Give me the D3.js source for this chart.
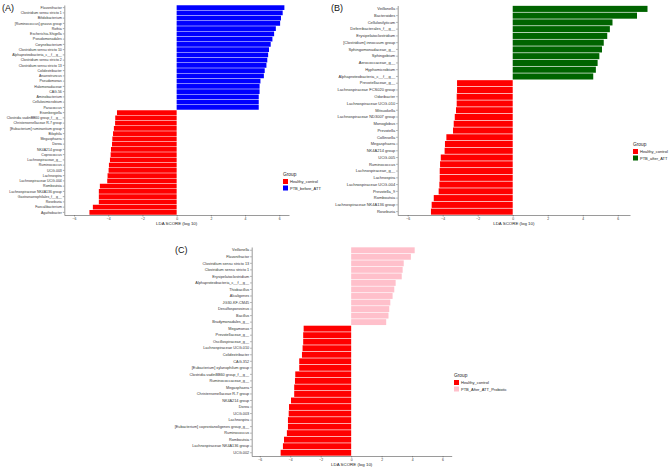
<!DOCTYPE html>
<html>
<head>
<meta charset="utf-8">
<script src="https://cdn.jsdelivr.net/npm/d3@7"></script>
<style>
  body { margin: 0; background: #fff; }
  svg { font-family: "Liberation Sans", Arial, sans-serif; }
</style>
</head>
<body>
<div id="chart"></div>
<script>
// Panel A: PTB_before_ATT vs Healthy_control
var aTaxa = ["Flavonifractor", "Clostridium sensu stricto 1", "Bifidobacterium", "[Ruminococcus] gnavus group",
    "Rothia", "Escherichia-Shigella", "Pseudomonadales", "Corynebacterium", "Clostridium sensu stricto 10",
    "Alphaproteobacteria_c__f__g__", "Clostridium sensu stricto 2", "Clostridium sensu stricto 13",
    "Colidextribacter", "Anaerotruncus", "Pseudomonas", "Halomonadaceae", "CAG-56", "Aminobacterium",
    "Cellulosimicrobium", "Paracoccus",
    "Eisenbergiella", "Clostridia vadinBB60 group_f__g__", "Christensenellaceae R-7 group",
    "[Eubacterium] ruminantium group", "Bilophila", "Megasphaera", "Dorea", "NK4A214 group", "Coprococcus",
    "Lachnospiraceae_g__", "Ruminococcus", "UCG-003", "Lachnospira", "Lachnospiraceae UCG-004", "Romboutsia",
    "Lachnospiraceae NK4A136 group", "Gastranaerophilales_f__g__", "Roseburia", "Faecalibacterium", "Agathobacter"];
var aLDA = [6.3, 6.2, 6.1, 6.05, 5.8, 5.7, 5.6, 5.5, 5.4, 5.35, 5.3, 5.25, 5.15, 5.1, 4.9, 4.85, 4.85, 4.8, 4.8, 4.8,
    -3.49, -3.59, -3.6, -3.67, -3.72, -3.76, -3.78, -3.84, -3.86, -3.9, -3.96, -3.98, -4.04, -4.06, -4.49,
    -4.55, -4.55, -4.55, -4.9, -5.1];

// Panel B: PTB_after_ATT vs Healthy_control
var bTaxa = ["Veillonella", "Bacteroides", "Cellulosilyticum", "Deferribacterales_f__g__", "Erysipelatoclostridium",
    "[Clostridium] innocuum group", "Sphingomonadaceae_g__", "Sphingobium", "Aerococcaceae_g__", "Hyphomicrobium",
    "Alphaproteobacteria_c__f__g__",
    "Prevotellaceae_g__", "Lachnospiraceae FCS020 group", "Odoribacter", "Lachnospiraceae UCG-010", "Mitsuokella",
    "Lachnospiraceae ND3007 group", "Monoglobus", "Prevotella", "Collinsella", "Megasphaera", "NK4A214 group",
    "UCG-005", "Ruminococcus", "Lachnospiraceae_g__", "Lachnospira", "Lachnospiraceae UCG-004", "Prevotella_9",
    "Romboutsia", "Lachnospiraceae NK4A136 group", "Roseburia"];
var bLDA = [7.7, 7.1, 5.7, 5.55, 5.4, 5.2, 5.1, 4.95, 4.85, 4.75, 4.6,
    -3.18, -3.18, -3.2, -3.2, -3.24, -3.31, -3.37, -3.41, -3.79, -3.87, -3.89, -4.11, -4.15, -4.17, -4.17,
    -4.19, -4.23, -4.51, -4.63, -4.67];

// Panel C: PTB_After_ATT_Probiotic vs Healthy_control
var cTaxa = ["Veillonella", "Flavonifractor", "Clostridium sensu stricto 13", "Clostridium sensu stricto 1",
    "Erysipelatoclostridium", "Alphaproteobacteria_c__f__g__", "Thiobacillus", "Alcaligenes", "JG30-KF-CM45",
    "Desulfosporosinus", "Bacillus", "Bradymonadales_g__",
    "Megamonas", "Prevotellaceae_g__", "Oscillospiraceae_g__", "Lachnospiraceae UCG-010", "Colidextribacter",
    "CAG-352", "[Eubacterium] xylanophilum group", "Clostridia vadinBB60 group_f__g__", "Ruminococcaceae_g__",
    "Megasphaera", "Christensenellaceae R-7 group", "NK4A214 group", "Dorea", "UCG-003", "Lachnospira",
    "[Eubacterium] coprostanoligenes group_g__", "Ruminococcus", "Romboutsia", "Lachnospiraceae NK4A136 group",
    "UCG-002"];
var cLDA = [4.17, 3.92, 3.45, 3.38, 3.32, 2.92, 2.83, 2.72, 2.57, 2.5, 2.45, 2.3,
    -3.12, -3.15, -3.15, -3.19, -3.23, -3.41, -3.41, -3.67, -3.69, -3.74, -3.74, -3.95, -4.08, -4.1, -4.15,
    -4.15, -4.22, -4.41, -4.48, -4.63];

var ticks = [-6, -4, -2, 0, 2, 4, 6];

var svg = d3.select("#chart").append("svg")
    .attr("width", 669)
    .attr("height", 467);

function drawPanel(opt) {
    var g = svg.append("g");

    var x = d3.scaleLinear().domain(opt.domain).range([opt.left, opt.right]);
    var y = d3.scaleBand().domain(opt.taxa).range([opt.top, opt.bottom]).paddingInner(0.1).paddingOuter(0.05);

    // bars
    g.selectAll("rect.bar")
        .data(opt.values)
        .enter()
        .append("rect")
        .attr("class", "bar")
        .attr("x", function(d) { return x(Math.min(0, d)); })
        .attr("y", function(d, i) { return y(opt.taxa[i]); })
        .attr("width", function(d) { return Math.abs(x(d) - x(0)); })
        .attr("height", y.bandwidth())
        .attr("fill", function(d) { return d < 0 ? "#FF0000" : opt.color; });

    // axes
    var yAxis = g.append("g")
        .attr("transform", "translate(" + opt.left + ",0)")
        .call(d3.axisLeft(y).tickSize(1.5).tickSizeOuter(0).tickPadding(1));
    yAxis.selectAll("text").attr("font-size", opt.fs).attr("fill", "#333");

    var xAxis = g.append("g")
        .attr("transform", "translate(0," + opt.bottom + ")")
        .call(d3.axisBottom(x).tickValues(ticks).tickSize(1.5).tickSizeOuter(0).tickPadding(0.8));
    xAxis.selectAll("text").attr("font-size", 3.4).attr("fill", "#333");

    g.selectAll(".domain").attr("stroke", "#555").attr("stroke-width", 0.6);
    g.selectAll(".tick line").attr("stroke", "#555").attr("stroke-width", 0.5);

    g.append("text")
        .attr("x", (opt.left + opt.right) / 2)
        .attr("y", opt.bottom + opt.titleDy)
        .attr("text-anchor", "middle")
        .attr("font-size", 4.4)
        .attr("fill", "#222")
        .text("LDA SCORE (log 10)");

    // panel tag
    g.append("text")
        .attr("x", opt.tagX)
        .attr("y", opt.tagY)
        .attr("font-size", 9)
        .attr("fill", "#111")
        .text(opt.tag);

    // legend
    var lg = g.append("g").attr("transform", "translate(" + opt.legX + "," + opt.legY + ")");
    lg.append("text").attr("x", 0).attr("y", 0).attr("font-size", 4.8).attr("fill", "#222").text("Group");
    var items = [["Healthy_control", "#FF0000"], [opt.group, opt.color]];
    items.forEach(function(it, i) {
        lg.append("rect").attr("x", 0).attr("y", 3 + i * 6.5).attr("width", 5).attr("height", 5).attr("fill", it[1]);
        lg.append("text").attr("x", 7).attr("y", 7 + i * 6.5).attr("font-size", 4).attr("fill", "#222").text(it[0]);
    });
}

drawPanel({ taxa: aTaxa, values: aLDA, color: "#0000FF", group: "PTB_before_ATT",
    left: 64.3, right: 289, top: 5, bottom: 215, domain: [-6.57, 6.57], fs: 3.5, titleDy: 10.3,
    tag: "(A)", tagX: 2, tagY: 11, legX: 283, legY: 176 });

drawPanel({ taxa: bTaxa, values: bLDA, color: "#006400", group: "PTB_after_ATT",
    left: 397.7, right: 630, top: 5.5, bottom: 215, domain: [-6.57, 6.7], fs: 4, titleDy: 10.3,
    tag: "(B)", tagX: 331, tagY: 11, legX: 633, legY: 146 });

drawPanel({ taxa: cTaxa, values: cLDA, color: "#FFC0CB", group: "PTB_After_ATT_Probiotic",
    left: 251.7, right: 451.7, top: 247, bottom: 456, domain: [-6.53, 6.6], fs: 3.8, titleDy: 9.8,
    tag: "(C)", tagX: 175, tagY: 253, legX: 454, legY: 377 });
</script>
</body>
</html>
